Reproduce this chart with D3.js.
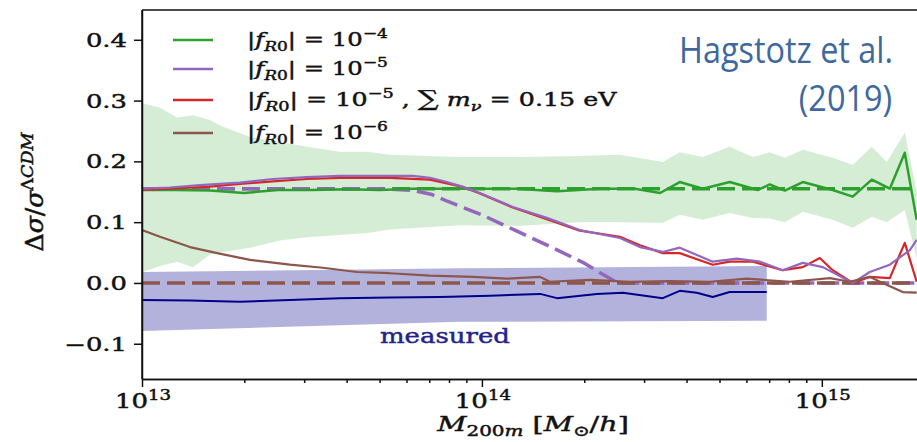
<!DOCTYPE html>
<meta charset="utf-8">
<head>
  <title>fR0 halo mass function</title>
</head>
<style>
body { margin: 0; background: #fff; }
text { font-family: "DejaVu Serif", serif; white-space: pre; }
.title { font-family: "Open Sans", sans-serif; fill: #3e689e; }
</style>
<body>
<svg id="chart" width="917" height="442"></svg>

<script src="https://cdnjs.cloudflare.com/ajax/libs/d3/7.8.5/d3.min.js"></script>
<script>

// masses are log10(M200m), values are Delta sigma / sigma_LCDM
var bandMass  = [13.000, 13.053, 13.103, 13.150, 13.200, 13.238, 13.318, 13.406, 13.485, 13.582, 13.662, 13.729, 13.935, 14.112, 14.288, 14.406, 14.532, 14.582, 14.650, 14.729, 14.797, 14.847, 14.891, 14.944, 15.032, 15.091, 15.147, 15.191, 15.244, 15.279];
var bandUpper = [0.296, 0.288, 0.272, 0.276, 0.268, 0.257, 0.240, 0.232, 0.224, 0.216, 0.216, 0.211, 0.207, 0.207, 0.209, 0.211, 0.199, 0.215, 0.207, 0.224, 0.207, 0.215, 0.206, 0.219, 0.206, 0.194, 0.224, 0.199, 0.247, 0.150];
var bandLower = [0.018, 0.028, 0.035, 0.026, 0.047, 0.051, 0.058, 0.070, 0.075, 0.079, 0.082, 0.088, 0.095, 0.094, 0.100, 0.100, 0.099, 0.112, 0.104, 0.115, 0.107, 0.106, 0.100, 0.117, 0.104, 0.091, 0.109, 0.100, 0.120, 0.040];

var f4Mass = [13.000, 13.100, 13.200, 13.300, 13.400, 13.500, 13.600, 13.700, 13.800, 13.900, 14.000, 14.100, 14.221, 14.347, 14.450, 14.524, 14.582, 14.650, 14.729, 14.812, 14.847, 14.891, 14.944, 15.032, 15.091, 15.147, 15.200, 15.244, 15.279];
var f4Vals = [0.153, 0.153, 0.152, 0.148, 0.153, 0.153, 0.154, 0.153, 0.155, 0.155, 0.155, 0.155, 0.151, 0.155, 0.155, 0.148, 0.166, 0.155, 0.166, 0.153, 0.162, 0.152, 0.166, 0.153, 0.142, 0.170, 0.155, 0.214, 0.104];

var f5Mass = [13.000, 13.082, 13.171, 13.288, 13.385, 13.485, 13.582, 13.729, 13.797, 13.847, 13.897, 13.944, 13.994, 14.091, 14.191, 14.288, 14.406, 14.465, 14.532, 14.582, 14.679, 14.750, 14.818, 14.885, 14.944, 15.003, 15.091, 15.141, 15.200, 15.259, 15.279];
var f5Vals = [0.155, 0.157, 0.161, 0.165, 0.171, 0.174, 0.176, 0.176, 0.176, 0.173, 0.166, 0.158, 0.148, 0.125, 0.107, 0.087, 0.074, 0.059, 0.051, 0.058, 0.035, 0.040, 0.035, 0.021, 0.033, 0.026, 0.000, 0.018, 0.030, 0.054, 0.071];

var f5nuMass = [13.000, 13.191, 13.288, 13.385, 13.485, 13.582, 13.729, 13.847, 13.944, 13.994, 14.091, 14.191, 14.288, 14.406, 14.465, 14.532, 14.582, 14.679, 14.729, 14.797, 14.885, 14.944, 14.994, 15.032, 15.091, 15.141, 15.200, 15.244, 15.279];
var f5nuVals = [0.153, 0.158, 0.163, 0.167, 0.171, 0.173, 0.173, 0.170, 0.158, 0.147, 0.124, 0.105, 0.086, 0.076, 0.062, 0.049, 0.049, 0.030, 0.035, 0.035, 0.021, 0.026, 0.041, 0.021, 0.000, 0.010, 0.008, 0.066, 0.002];

var f6Mass = [13.000, 13.053, 13.141, 13.221, 13.318, 13.435, 13.532, 13.632, 13.729, 13.847, 13.974, 14.074, 14.171, 14.200, 14.318, 14.435, 14.553, 14.671, 14.779, 14.906, 15.024, 15.082, 15.141, 15.179, 15.238, 15.279];
var f6Vals = [0.087, 0.076, 0.059, 0.049, 0.038, 0.030, 0.025, 0.018, 0.016, 0.012, 0.010, 0.007, 0.010, 0.002, 0.005, 0.002, 0.003, 0.002, 0.007, 0.002, 0.008, 0.002, 0.010, 0.000, -0.015, -0.016];

// model predictions (dashed)
var modelMass = [13.000, 13.700, 13.800, 13.850, 13.900, 14.000, 14.100, 14.200, 14.300, 14.350, 14.400, 15.279];
var modelF4   = [0.155, 0.155, 0.155, 0.155, 0.155, 0.155, 0.155, 0.155, 0.155, 0.155, 0.155, 0.155];
var modelF5   = [0.155, 0.155, 0.152, 0.146, 0.134, 0.112, 0.086, 0.060, 0.033, 0.016, 0.000, 0.000];
var modelF6   = [0, 0, 0, 0, 0, 0, 0, 0, 0, 0, 0, 0];

var measMass = [13.000, 13.141, 13.288, 13.435, 13.582, 13.729, 13.876, 14.024, 14.171, 14.221, 14.338, 14.415, 14.532, 14.582, 14.632, 14.679, 14.729, 14.838];
var measVals = [-0.028, -0.029, -0.031, -0.028, -0.025, -0.024, -0.023, -0.021, -0.018, -0.025, -0.018, -0.016, -0.025, -0.013, -0.016, -0.023, -0.015, -0.015];
var measBandMass  = [13.000, 13.935, 14.838];
var measBandUpper = [0.018, 0.024, 0.028];
var measBandLower = [-0.079, -0.064, -0.062];

var yTicks = [-0.1, 0.0, 0.1, 0.2, 0.3, 0.4];
var xTicks = [13, 14, 15];
var legendExps = ["4", "5", "5", "6"];
var legendColors = ["#2ca02c", "#9467bd", "#d62728", "#8c564b"];

var svg = d3.select("#chart");
var pLeft = 142, pRight = 917, pTop = 10, pBottom = 379;

var x = d3.scaleLog().domain([1e13, Math.pow(10, 15.28)]).range([pLeft, pRight]);
var y = d3.scaleLinear().domain([-0.158, 0.449]).range([pBottom, pTop]);

function px(lm) { return x(Math.pow(10, lm)); }

svg.append("clipPath").attr("id", "clip")
  .append("rect").attr("x", pLeft).attr("y", pTop).attr("width", pRight - pLeft).attr("height", pBottom - pTop);

var plot = svg.append("g").attr("clip-path", "url(#clip)");

function band(mass, lo, hi, color, op) {
  var pts = mass.map(function(m, i) { return [m, lo[i], hi[i]]; });
  plot.append("path").datum(pts)
    .attr("d", d3.area().x(function(d) { return px(d[0]); })
      .y0(function(d) { return y(d[1]); }).y1(function(d) { return y(d[2]); }))
    .attr("fill", color).attr("fill-opacity", op);
}

function line(mass, vals, color, w, dash) {
  var pts = mass.map(function(m, i) { return [m, vals[i]]; });
  plot.append("path").datum(pts)
    .attr("d", d3.line().x(function(d) { return px(d[0]); }).y(function(d) { return y(d[1]); }))
    .attr("fill", "none").attr("stroke", color).attr("stroke-width", w)
    .attr("stroke-linejoin", "round")
    .attr("stroke-dasharray", dash || null);
}

band(bandMass, bandLower, bandUpper, "#2ca02c", 0.2);
band(measBandMass, measBandLower, measBandUpper, "#00008b", 0.3);

line(modelMass, modelF4, "#2ca02c", 3.5, "18,7");
line(modelMass, modelF5, "#9467bd", 3.5, "18,7");
line(modelMass, modelF6, "#8c564b", 3.5, "18,7");

line(f4Mass, f4Vals, "#2ca02c", 2.5);
line(f5nuMass, f5nuVals, "#d62728", 2.2);
line(f5Mass, f5Vals, "#9467bd", 2.2);
line(f6Mass, f6Vals, "#8c564b", 2.2);
line(measMass, measVals, "#00008b", 2);

// axes
var yAxis = d3.axisLeft(y).tickValues(yTicks).tickSize(8).tickSizeOuter(0).tickFormat("");
svg.append("g").attr("transform", "translate(" + pLeft + ",0)").call(yAxis);

var xAxis = d3.axisBottom(x).tickValues(xTicks.map(function(e) { return Math.pow(10, e); }))
  .tickSize(8).tickSizeOuter(0).tickFormat("");
svg.append("g").attr("transform", "translate(0," + pBottom + ")").call(xAxis);

var minor = [];
[13, 14, 15].forEach(function(e) {
  d3.range(2, 10).forEach(function(k) {
    var v = k * Math.pow(10, e);
    if (v < x.domain()[1]) minor.push(v);
  });
});
svg.append("g").attr("transform", "translate(0," + pBottom + ")")
  .call(d3.axisBottom(x).tickValues(minor).tickSize(4).tickFormat("").tickSizeOuter(0));

svg.selectAll(".domain, .tick line").attr("stroke", "#111").attr("stroke-width", 1.5);
svg.append("line").attr("x1", pLeft).attr("x2", pRight).attr("y1", pTop).attr("y2", pTop)
  .attr("stroke", "#111").attr("stroke-width", 1.5);
svg.append("line").attr("x1", pLeft).attr("x2", pLeft).attr("y1", pTop).attr("y2", pBottom)
  .attr("stroke", "#111").attr("stroke-width", 1.5);

// math-ish text made of tspans; parts are [string, flags]
function mathText(parent, parts, size, anchor, color) {
  var t = parent.append("text").attr("font-size", size)
    .attr("text-anchor", anchor || "start").attr("fill", color || "#111")
    .attr("stroke", color || "#111").attr("stroke-width", 0.45);
  var shift = 0;
  parts.forEach(function(p) {
    var f = p[1] || "";
    var target = f.indexOf("sub") >= 0 ? size * 0.25 : (f.indexOf("sup") >= 0 ? -size * 0.42 : 0);
    var ts = t.append("tspan").text(p[0]).attr("dy", target - shift);
    shift = target;
    if (f.indexOf("sub") >= 0 || f.indexOf("sup") >= 0) ts.attr("font-size", size * 0.7);
    if (f.indexOf("it") >= 0) ts.attr("font-style", "italic");
    if (f.indexOf("big") >= 0) ts.attr("font-size", size * 1.15);
  });
  return t;
}

function place(t, ax, ay, k) {
  t.attr("transform", "translate(" + ax + "," + ay + ") scale(" + k + ",1)");
}
function fit(t, ax, ay, w) {
  var bw = t.node().getBBox().width;
  place(t, ax, ay, w / bw);
}

yTicks.forEach(function(v) {
  var t = mathText(svg, [[v < 0 ? "\u2212" + Math.abs(v).toFixed(1) : v.toFixed(1)]], 19, "end");
  place(t, 127, y(v) + 7, 1.36);
});
xTicks.forEach(function(e) {
  var t = mathText(svg, [["10"], [String(e), "sup"]], 20, "middle");
  place(t, x(Math.pow(10, e)) + 1, 408, 1.3);
});

var xl = mathText(svg, [["M", "it"], ["200", "sub"], ["m", "it sub"], [" ["], ["M", "it"], ["\u2299", "sub"], ["/"], ["h", "it"], ["]"]], 21, "middle");
fit(xl, 533, 431, 193);

var yl = mathText(svg, [["\u0394"], ["\u03c3", "it"], ["/"], ["\u03c3", "it"], ["\u039b", "sup"], ["CDM", "it sup"]], 21, "middle");
var ylw = yl.node().getBBox().width;
yl.attr("transform", "translate(43,192) rotate(-90) scale(" + (120 / ylw) + ",1.15)");

var meas = mathText(svg, [["measured"]], 21, "start", "#23238c");
fit(meas, 380, 343, 130);

// legend
var rows = [40, 69, 100, 133];
legendExps.forEach(function(e, i) {
  svg.append("line").attr("x1", 173).attr("x2", 213).attr("y1", rows[i]).attr("y2", rows[i])
    .attr("stroke", legendColors[i]).attr("stroke-width", 2.5);
  var parts = [["|"], ["f", "it"], ["R", "it sub"], ["0", "sub"], ["| = 10"], ["\u2212" + e, "sup"]];
  if (i == 2) parts = parts.concat([[" , "], ["\u2211", "big"], [" m", "it"], ["\u03bd", "it sub"], [" = 0.15 eV"]]);
  var t = mathText(svg, parts, 19, "start");
  fit(t, 247, rows[i] + 6, i == 2 ? 370 : 141);
});

// attribution
var t1 = svg.append("text").attr("class", "title").attr("font-size", 36).attr("text-anchor", "end").text("Hagstotz et al.");
place(t1, 893, 63, 0.9);
var t2 = svg.append("text").attr("class", "title").attr("font-size", 36).attr("text-anchor", "end").text("(2019)");
place(t2, 892, 111, 0.9);

</script>
</body>
